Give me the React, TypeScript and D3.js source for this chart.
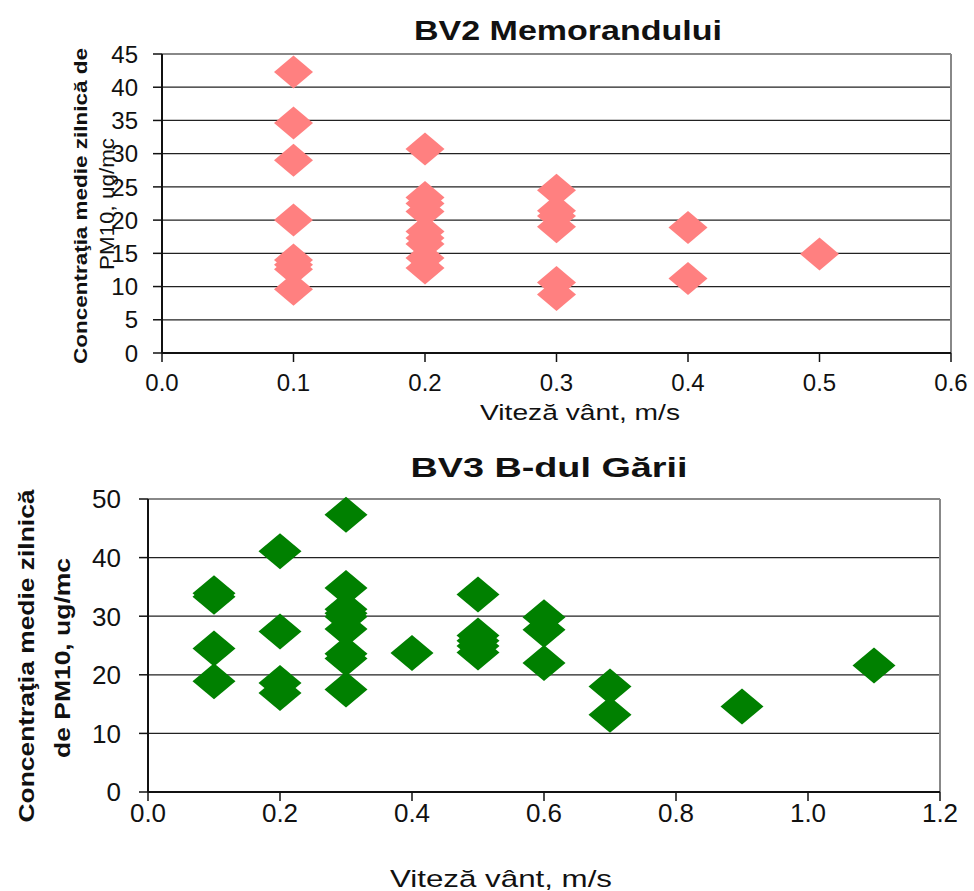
import React from "react";
import * as d3 from "d3";

// BV2 Memorandului
const bv2Wind = [0.1, 0.1, 0.1, 0.1, 0.1, 0.1, 0.1, 0.1,
  0.2, 0.2, 0.2, 0.2, 0.2, 0.2, 0.2, 0.2, 0.2,
  0.3, 0.3, 0.3, 0.3, 0.3, 0.3,
  0.4, 0.4,
  0.5];
const bv2PM10 = [42.3, 34.6, 29.0, 20.0, 14.0, 13.3, 12.6, 9.6,
  30.7, 23.4, 22.5, 21.3, 18.3, 17.3, 16.4, 14.3, 12.8,
  24.5, 21.4, 20.6, 19.0, 10.6, 8.8,
  18.9, 11.2,
  14.9];

// BV3 B-dul Gării
const bv3Wind = [0.1, 0.1, 0.1, 0.1,
  0.2, 0.2, 0.2, 0.2,
  0.3, 0.3, 0.3, 0.3, 0.3, 0.3, 0.3, 0.3, 0.3,
  0.4,
  0.5, 0.5, 0.5, 0.5, 0.5,
  0.6, 0.6, 0.6,
  0.7, 0.7,
  0.9,
  1.1];
const bv3PM10 = [33.9, 33.3, 24.5, 18.9,
  41.1, 27.4, 18.6, 16.9,
  47.3, 34.8, 31.2, 30.5, 29.9, 27.8, 23.6, 22.8, 17.5,
  23.7,
  33.7, 26.7, 25.8, 24.9, 23.8,
  29.8, 27.7, 22.0,
  18.0, 13.2,
  14.6,
  21.6];

const topXTicks = [0, 0.1, 0.2, 0.3, 0.4, 0.5, 0.6];
const topYTicks = [0, 5, 10, 15, 20, 25, 30, 35, 40, 45];
const botXTicks = [0, 0.2, 0.4, 0.6, 0.8, 1.0, 1.2];
const botYTicks = [0, 10, 20, 30, 40, 50];

const FONT = "'Liberation Sans', Arial, sans-serif";

type PanelProps = {
  xs: number[];
  ys: number[];
  xTicks: number[];
  yTicks: number[];
  xDomain: [number, number];
  yDomain: [number, number];
  left: number; right: number; top: number; bottom: number;
  color: string;
  hw: number; hh: number;
  tickFont: number;
  yLabelX: number;
  xLabelY: number;
};

function Panel(p: PanelProps) {
  const x = d3.scaleLinear().domain(p.xDomain).range([p.left, p.right]);
  const y = d3.scaleLinear().domain(p.yDomain).range([p.bottom, p.top]);
  const fmt = d3.format(".1f");
  return (
    <g>
      {p.yTicks.filter((t) => t > p.yDomain[0] && t < p.yDomain[1]).map((t) => (
        <line key={"g" + t} x1={p.left} x2={p.right} y1={y(t)} y2={y(t)} stroke="#222" strokeWidth={1.3} />
      ))}
      <line x1={p.left} x2={p.right} y1={p.top} y2={p.top} stroke="#888" strokeWidth={2} />
      <line x1={p.right} x2={p.right} y1={p.top} y2={p.bottom} stroke="#888" strokeWidth={2} />
      {p.xs.map((xv, i) => {
        const cx = x(xv);
        const cy = y(p.ys[i]);
        return (
          <path key={i}
            d={`M${cx},${cy - p.hh}L${cx + p.hw},${cy}L${cx},${cy + p.hh}L${cx - p.hw},${cy}Z`}
            fill={p.color} />
        );
      })}
      <line x1={p.left} x2={p.left} y1={p.top} y2={p.bottom} stroke="#111" strokeWidth={2} />
      <line x1={p.left} x2={p.right} y1={p.bottom} y2={p.bottom} stroke="#111" strokeWidth={2} />
      {p.yTicks.map((t) => (
        <g key={"y" + t}>
          <line x1={p.left - 9} x2={p.left} y1={y(t)} y2={y(t)} stroke="#111" strokeWidth={1.5} />
          <text x={p.yLabelX} y={y(t)} dy="0.36em" textAnchor="end" fontSize={p.tickFont} fontFamily={FONT} fill="#111">{t}</text>
        </g>
      ))}
      {p.xTicks.map((t) => (
        <g key={"x" + t}>
          <line x1={x(t)} x2={x(t)} y1={p.bottom} y2={p.bottom + 9} stroke="#111" strokeWidth={1.5} />
          <text x={x(t)} y={p.xLabelY} dy="0.36em" textAnchor="middle" fontSize={p.tickFont} fontFamily={FONT} fill="#111">{fmt(t)}</text>
        </g>
      ))}
    </g>
  );
}

export default function App() {
  return (
    <svg width={974} height={891} style={{ position: "absolute", left: 0, top: 0, background: "#fff" }}>
      <rect x={0} y={0} width={974} height={891} fill="#fff" />
      {/* Top chart */}
      <text x={568} y={30} dy="0.36em" textAnchor="middle" fontSize={27} fontWeight="bold" fontFamily={FONT}
        textLength={308} lengthAdjust="spacingAndGlyphs" fill="#111">BV2 Memorandului</text>
      <Panel xs={bv2Wind} ys={bv2PM10} xTicks={topXTicks} yTicks={topYTicks}
        xDomain={[0, 0.6]} yDomain={[0, 45]} left={162} right={951} top={54} bottom={353}
        color="#FF8080" hw={19.5} hh={16.5} tickFont={24} yLabelX={138} xLabelY={382} />
      <text transform="translate(80,206) rotate(-90)" dy="0.36em" textAnchor="middle" fontSize={19} fontWeight="bold"
        fontFamily={FONT} textLength={316} lengthAdjust="spacingAndGlyphs" fill="#111">Concentraţia medie zilnică de</text>
      <text transform="translate(107,204) rotate(-90)" dy="0.36em" textAnchor="middle" fontSize={20}
        fontFamily={FONT} textLength={132} lengthAdjust="spacingAndGlyphs" fill="#111">PM10,  ug/mc</text>
      <text x={580} y={412} dy="0.36em" textAnchor="middle" fontSize={22} fontFamily={FONT}
        textLength={200} lengthAdjust="spacingAndGlyphs" fill="#111">Viteză vânt,  m/s</text>

      {/* Bottom chart */}
      <text x={549} y={467} dy="0.36em" textAnchor="middle" fontSize={28} fontWeight="bold" fontFamily={FONT}
        textLength={277} lengthAdjust="spacingAndGlyphs" fill="#111">BV3 B-dul Gării</text>
      <Panel xs={bv3Wind} ys={bv3PM10} xTicks={botXTicks} yTicks={botYTicks}
        xDomain={[0, 1.2]} yDomain={[0, 50]} left={148} right={940} top={499} bottom={792}
        color="#008000" hw={21.5} hh={18} tickFont={26} yLabelX={121} xLabelY={813} />
      <text transform="translate(26,656) rotate(-90)" dy="0.36em" textAnchor="middle" fontSize={22} fontWeight="bold"
        fontFamily={FONT} textLength={333} lengthAdjust="spacingAndGlyphs" fill="#111">Concentraţia medie zilnică</text>
      <text transform="translate(62,658) rotate(-90)" dy="0.36em" textAnchor="middle" fontSize={22} fontWeight="bold"
        fontFamily={FONT} textLength={200} lengthAdjust="spacingAndGlyphs" fill="#111">de PM10, ug/mc</text>
      <text x={501} y={878} dy="0.36em" textAnchor="middle" fontSize={24} fontFamily={FONT}
        textLength={222} lengthAdjust="spacingAndGlyphs" fill="#111">Viteză vânt,  m/s</text>
    </svg>
  );
}
